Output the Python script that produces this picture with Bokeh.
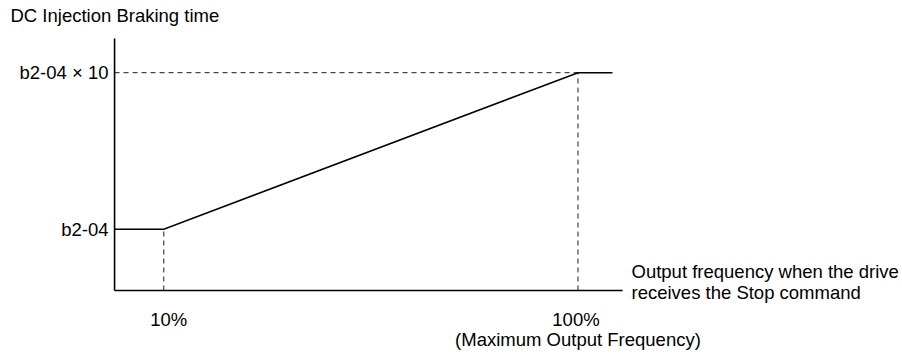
from bokeh.plotting import figure
from bokeh.models import Range1d, ColumnDataSource
from bokeh.core.properties import value
from bokeh.embed import file_html
from bokeh.resources import INLINE

# ---------------- data ----------------
freq_pct = [-0.7, 10, 100, 107.5]      # output frequency at stop (% of max output frequency)
brake_mult = [1, 1, 10, 10]            # DC injection braking time, as a multiple of b2-04
x_ticks = [10, 100]
x_tick_labels = ["10%", "100%"]
x_tick_sublabels = ["", "(Maximum Output Frequency)"]
y_ticks = [1, 10]
y_tick_labels = ["b2-04", "b2-04 × 10"]
y_title = "DC Injection Braking time"
x_title_lines = ["Output frequency when the drive", "receives the Stop command"]

# ---------------- layout ----------------
X_AXIS_START, X_AXIS_END = -0.7, 109.7
Y_AXIS_START, Y_AXIS_END = -2.525, 11.97
FONT = value("Liberation Sans")
FS = "18.5px"
INK = "#000000"

p = figure(width=902, height=356,
           x_range=Range1d(-25.485, 170.518), y_range=Range1d(-6.320, 14.151),
           x_axis_type=None, y_axis_type=None,
           output_backend="svg", toolbar_location=None,
           min_border=0, min_border_left=0, min_border_right=0,
           min_border_top=0, min_border_bottom=0)
p.grid.visible = False
p.outline_line_color = None
p.background_fill_color = "white"
p.border_fill_color = "white"

# axes lines
p.segment(x0=[X_AXIS_START, X_AXIS_START], y0=[Y_AXIS_START, Y_AXIS_START],
          x1=[X_AXIS_START, X_AXIS_END], y1=[Y_AXIS_END, Y_AXIS_START],
          line_color=INK, line_width=1.6)

# dashed guide lines
knee_x = [freq_pct[1], freq_pct[2]]
knee_y = [brake_mult[1], brake_mult[2]]
p.segment(x0=knee_x + [X_AXIS_START], y0=[Y_AXIS_START, Y_AXIS_START, knee_y[1]],
          x1=knee_x + [knee_x[1]], y1=knee_y + [knee_y[1]],
          line_color="#1a1a1a", line_width=1, line_dash="5 4")

# characteristic curve
p.line(freq_pct, brake_mult, line_color=INK, line_width=1.6, line_join="miter")

# y title
p.text(x=[-23.31], y=[13.289], text=[y_title], text_font=FONT, text_font_size=FS,
       text_color=INK, text_align="left", text_baseline="middle")

# y tick labels
p.text(x=[-2.02] * len(y_ticks), y=y_ticks, text=y_tick_labels, text_font=FONT,
       text_font_size=FS, text_color=INK, text_align="right", text_baseline="middle")

# x tick labels
xsrc = ColumnDataSource(dict(x=x_ticks, y=[-4.175] * len(x_ticks), t=x_tick_labels,
                             off=[5, -2]))
p.text(x="x", y="y", text="t", x_offset="off", source=xsrc, text_font=FONT,
       text_font_size=FS, text_color=INK, text_align="center", text_baseline="middle")
p.text(x=x_ticks, y=[-5.371] * len(x_ticks), text=x_tick_sublabels, text_font=FONT,
       text_font_size=FS, text_color=INK, text_align="center", text_baseline="middle")

# x title (two lines)
p.text(x=[111.63] * 2, y=[-1.432, -2.617], text=x_title_lines, text_font=FONT,
       text_font_size=FS, text_color=INK, text_align="left", text_baseline="middle")

open("out.html", "w").write(file_html(p, INLINE))
